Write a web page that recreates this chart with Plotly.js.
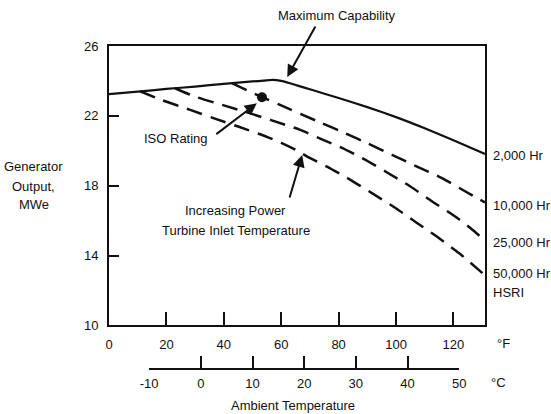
<!DOCTYPE html>
<html><head><meta charset="utf-8">
<script src="https://cdn.plot.ly/plotly-3.0.1.min.js"></script>
<style>html,body{margin:0;padding:0;background:#fff}#chart{width:551px;height:414px}</style>
</head><body><div id="chart"></div>
<script>
// ---- data ----
const maxCapF  = [0, 10, 20, 30, 40, 50, 54, 57, 60, 63, 66, 70, 80, 90, 100, 110, 120, 131];
const maxCapMW = [23.25, 23.39, 23.54, 23.68, 23.83, 23.97, 24.02, 24.06, 24.0, 23.87, 23.72, 23.52, 23.02, 22.5, 21.93, 21.29, 20.6, 19.82];

const hr10kF  = [42.8, 53.3, 59.6, 73.6, 82.3, 90.4, 98.6, 107.3, 116, 124.2, 131];
const hr10kMW = [23.87, 23.07, 22.63, 21.62, 21.01, 20.40, 19.77, 19.10, 18.44, 17.67, 17.04];

const hr25kF  = [23, 30, 40, 50, 56.2, 66.6, 74.6, 80.6, 88.7, 96.9, 105, 112.6, 120.1, 125.9, 131];
const hr25kMW = [23.58, 23.1, 22.6, 22.1, 21.77, 21.2, 20.63, 20.21, 19.54, 18.76, 17.96, 17.1, 16.3, 15.58, 14.86];

const hr50kF  = [10.8, 18.4, 28.3, 36.4, 45, 55, 60, 65, 70.1, 75.9, 84.1, 91.6, 99.8, 107.3, 114.9, 121.9, 125.9, 131];
const hr50kMW = [23.41, 22.91, 22.34, 21.87, 21.39, 20.8, 20.46, 20.06, 19.58, 19.10, 18.34, 17.58, 16.73, 15.87, 15.01, 14.15, 13.6, 12.87];

const isoF  = [53.3];
const isoMW = [23.07];

const fTicks = [0, 20, 40, 60, 80, 100, 120];
const cTicks = [-10, 0, 10, 20, 30, 40, 50];
const yTicks = [10, 14, 18, 22, 26];
const curveLabels = ['2,000 Hr', '10,000 Hr', '25,000 Hr', '50,000 Hr', 'HSRI'];

// ---- chart ----
const FONT = '"Liberation Sans", Arial, Helvetica, sans-serif';
const INK = '#111';
const fMin = 0, fMax = 131;
const cToF = c => c * 9 / 5 + 32;
const dom2 = [(cToF(cTicks[0]) - fMin) / (fMax - fMin), (cToF(cTicks[cTicks.length - 1]) - fMin) / (fMax - fMin)];

const dash = '16px,9px';
const traces = [
  {x: cTicks, y: cTicks.map(() => null), xaxis: 'x2', yaxis: 'y', mode: 'lines', hoverinfo: 'skip'},
  {x: maxCapF, y: maxCapMW, mode: 'lines', line: {color: INK, width: 2.2, shape: 'spline', smoothing: 0.5}},
  {x: hr10kF, y: hr10kMW, mode: 'lines', line: {color: INK, width: 2.5, dash: dash, shape: 'spline', smoothing: 0.6}},
  {x: hr25kF, y: hr25kMW, mode: 'lines', line: {color: INK, width: 2.5, dash: dash, shape: 'spline', smoothing: 0.6}},
  {x: hr50kF, y: hr50kMW, mode: 'lines', line: {color: INK, width: 2.5, dash: dash, shape: 'spline', smoothing: 0.6}},
  {x: isoF, y: isoMW, mode: 'markers', marker: {color: INK, size: 10}}
];

const txt = (text, x, y, xanchor) => ({text, x, y, xref: 'paper', yref: 'paper', showarrow: false,
  xanchor: xanchor || 'center', yanchor: 'middle', borderpad: 0, borderwidth: 0,
  font: {family: FONT, size: 13, color: INK}});
const arrow = (x, y, ax, ay) => ({text: '', x, y, xref: 'x', yref: 'y', ax, ay, showarrow: true,
  arrowhead: 2, arrowsize: 1.2, arrowwidth: 2, arrowcolor: INK});

const annotations = [
  txt('Maximum Capability', 0.606, 1.094),
  txt('ISO Rating', 0.178, 0.714),
  txt('Increasing Power', 0.336, 0.492),
  txt('Turbine Inlet Temperature', 0.338, 0.430),
  txt('Generator', -0.1995, 0.626),
  txt('Output,', -0.1995, 0.566),
  txt('MWe', -0.1995, 0.510),
  txt(curveLabels[0], 1.02, 0.6625, 'left'),
  txt(curveLabels[1], 1.02, 0.5077, 'left'),
  txt(curveLabels[2], 1.02, 0.3923, 'left'),
  txt(curveLabels[3], 1.02, 0.2963, 'left'),
  txt(curveLabels[4], 1.02, 0.2375, 'left'),
  txt('°F', 1.032, 0.0796, 'left'),
  txt('°C', 1.015, -0.041, 'left'),
  txt('Ambient Temperature', 0.489, -0.1115),
  arrow(62.1, 24.23, 29, -52),
  arrow(51.5, 22.72, -42, 32),
  arrow(67.3, 19.76, -13, 44)
];

const layout = {
  width: 551, height: 414,
  margin: {l: 109, r: 66, t: 46, b: 45},
  paper_bgcolor: '#fff', plot_bgcolor: 'rgba(0,0,0,0)',
  showlegend: false,
  font: {family: FONT, size: 13, color: INK},
  xaxis: {range: [fMin, fMax], tickvals: fTicks, ticktext: fTicks.map(String),
    ticks: 'inside', ticklen: 13, tickwidth: 2, tickcolor: INK,
    showline: true, linewidth: 2, linecolor: INK, mirror: true,
    showgrid: false, zeroline: false, anchor: 'y', ticklabelstandoff: 6,
    tickfont: {family: FONT, size: 13, color: INK}},
  yaxis: {range: [10, 26], domain: [0.1347, 1], tickvals: yTicks, ticktext: yTicks.map(String),
    ticks: 'inside', ticklen: 10, tickwidth: 2, tickcolor: INK,
    showline: true, linewidth: 2, linecolor: INK, mirror: true,
    showgrid: false, zeroline: false, ticklabelstandoff: 6,
    tickfont: {family: FONT, size: 13, color: INK}},
  xaxis2: {range: [cTicks[0], cTicks[cTicks.length - 1]], domain: dom2, anchor: 'free', position: 0,
    tickvals: cTicks, ticktext: cTicks.map(String),
    ticks: 'inside', ticklen: 12, tickwidth: 2, tickcolor: INK,
    showline: true, linewidth: 2, linecolor: INK,
    showgrid: false, zeroline: false, ticklabelstandoff: 2,
    tickfont: {family: FONT, size: 13, color: INK}},
  annotations
};

Plotly.newPlot('chart', traces, layout, {staticPlot: true, displayModeBar: false});
</script>
</body></html>
